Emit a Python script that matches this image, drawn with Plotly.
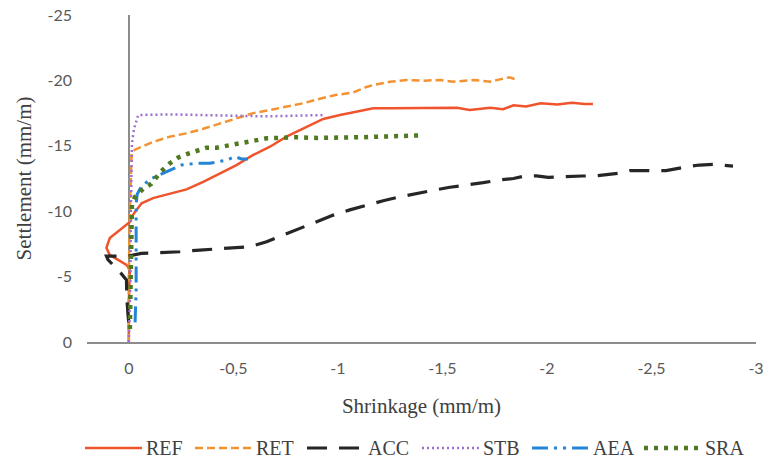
import plotly.graph_objects as go

# ---------------- data ----------------
REF_x = [0, 0, -0.005, 0.011, 0.053, 0.091, 0.107, 0.091, 0.043, -0.005, -0.019, -0.04, -0.061, -0.116,
         -0.212, -0.276, -0.356, -0.435, -0.515, -0.595, -0.675, -0.754, -0.85, -0.93, -1.01, -1.09, -1.17,
         -1.25, -1.33, -1.41, -1.49, -1.57, -1.63, -1.73, -1.79, -1.84, -1.90, -1.97, -2.05, -2.12, -2.18, -2.22]
REF_y = [0, -3, -5.5, -5.9, -6.3, -6.65, -7.2, -7.95, -8.56, -9.17, -9.7, -10.2, -10.6, -11.0,
         -11.37, -11.67, -12.25, -12.9, -13.53, -14.3, -14.93, -15.7, -16.46, -17.05, -17.35, -17.6, -17.87,
         -17.87, -17.87, -17.9, -17.9, -17.9, -17.74, -17.9, -17.8, -18.1, -18.0, -18.25, -18.15, -18.3, -18.2, -18.2]

RET_x = [0, 0, -0.005, -0.013, -0.029, -0.116, -0.196, -0.276, -0.356, -0.435, -0.515, -0.595, -0.675,
         -0.754, -0.834, -0.914, -0.994, -1.07, -1.137, -1.17, -1.25, -1.33, -1.41, -1.49, -1.55, -1.65,
         -1.73, -1.775, -1.82, -1.85]
RET_y = [0, -5, -10, -14.4, -14.7, -15.3, -15.7, -15.95, -16.3, -16.7, -17.15, -17.5, -17.74,
         -18.0, -18.25, -18.6, -18.9, -19.06, -19.5, -19.65, -19.9, -20.03, -19.98, -20.03, -19.9, -20.03,
         -19.9, -20.08, -20.23, -20.08]

ACC_x = [0, 0.003, 0.01, 0.011, 0.04, 0.075, 0.1, 0.107, 0.003, -0.06, -0.244, -0.34, -0.5, -0.579,
         -0.659, -0.738, -0.818, -0.898, -0.978, -1.057, -1.137, -1.217, -1.297, -1.376, -1.456, -1.536,
         -1.616, -1.695, -1.775, -1.84, -1.895, -1.95, -2.006, -2.06, -2.17, -2.23, -2.34, -2.397, -2.517,
         -2.57, -2.67, -2.73, -2.796, -2.86, -2.89]
ACC_y = [-1.5, -1.9, -3.46, -4.74, -5.3, -5.9, -6.3, -6.57, -6.57, -6.78, -6.9, -7.03, -7.16, -7.28,
         -7.67, -8.18, -8.69, -9.2, -9.7, -10.1, -10.47, -10.8, -11.1, -11.37, -11.6, -11.83,
         -12.0, -12.18, -12.4, -12.5, -12.69, -12.7, -12.59, -12.64, -12.69, -12.69, -12.9, -13.1, -13.1,
         -13.1, -13.4, -13.53, -13.58, -13.45, -13.45]

STB_x = [0, -0.008, -0.01, -0.012, -0.015, -0.025, -0.037, -0.045, -0.2, -0.35, -0.5, -0.65, -0.8, -0.93]
STB_y = [0, -5, -10, -14, -15.2, -16.3, -16.97, -17.35, -17.4, -17.35, -17.25, -17.25, -17.3, -17.35]

AEA_x = [-0.03, -0.035, -0.035, -0.035, -0.04, -0.06, -0.108, -0.18, -0.252, -0.324, -0.388, -0.467,
         -0.507, -0.539, -0.57]
AEA_y = [-1.5, -4, -8, -10.5, -11.3, -11.9, -12.5, -13.0, -13.53, -13.66, -13.66, -13.9,
         -14.17, -14.0, -14.0]

SRA_x = [-0.005, -0.008, -0.01, -0.015, -0.03, -0.068, -0.108, -0.156, -0.196, -0.236, -0.284, -0.332,
         -0.372, -0.42, -0.467, -0.515, -0.563, -0.611, -0.659, -0.707, -0.8, -0.9, -1.0, -1.1, -1.2,
         -1.3, -1.4]
SRA_y = [-1.0, -4, -8, -10.5, -11.1, -11.7, -12.1, -13.07, -13.66, -14.1, -14.4, -14.68,
         -14.86, -14.86, -15.0, -15.1, -15.27, -15.44, -15.57, -15.6, -15.65, -15.6, -15.6, -15.65, -15.7,
         -15.75, -15.8]

SERIES_NAMES = ["REF", "RET", "ACC", "STB", "AEA", "SRA"]

X_TICKS = [0, -0.5, -1, -1.5, -2, -2.5, -3]
X_TICK_LABELS = ["0", "-0,5", "-1", "-1,5", "-2", "-2,5", "-3"]
Y_TICKS = [0, -5, -10, -15, -20, -25]
Y_TICK_LABELS = ["0", "-5", "-10", "-15", "-20", "-25"]

# ---------------- styling ----------------
W, H = 764, 462
ML, MR, MT, MB = 87, 8, 15, 120
PW, PH = W - ML - MR, H - MT - MB

styles = {
    "REF": dict(color="#F0542C", dash="solid", width=2.5),
    "RET": dict(color="#F39232", dash="8px,4px", width=2.5),
    "ACC": dict(color="#262626", dash="20px,12px", width=3.2),
    "STB": dict(color="#9B6FCF", dash="2px,3px", width=2.5),
    "AEA": dict(color="#2385D4", dash="16px,6px,3px,6px,3px,6px", width=3),
    "SRA": dict(color="#4F7A21", dash="4px,6px", width=4.5),
}
data = {
    "REF": (REF_x, REF_y), "RET": (RET_x, RET_y), "ACC": (ACC_x, ACC_y),
    "STB": (STB_x, STB_y), "AEA": (AEA_x, AEA_y), "SRA": (SRA_x, SRA_y),
}

fig = go.Figure()
for name in SERIES_NAMES:
    xs, ys = data[name]
    fig.add_trace(go.Scatter(x=xs, y=ys, mode="lines", name=name,
                             line=styles[name], showlegend=False))

# manual legend (long key lines like the original)
legend_starts_px = [85, 195, 307, 422, 532, 644]
key_len = 57
legend_y_px = 448
ly = (H - MB - legend_y_px) / PH
for name, sx in zip(SERIES_NAMES, legend_starts_px):
    x0 = (sx - ML) / PW
    x1 = (sx + key_len - ML) / PW
    fig.add_shape(type="line", xref="paper", yref="paper", x0=x0, x1=x1, y0=ly, y1=ly,
                  line=dict(color=styles[name]["color"], dash=styles[name]["dash"],
                            width=styles[name]["width"]))
    fig.add_annotation(xref="paper", yref="paper", x=(sx + key_len + 2 - ML) / PW, y=ly,
                       xanchor="left", yanchor="middle", text=name, showarrow=False,
                       font=dict(family="Liberation Serif, serif", size=20, color="#404040"))

tick_font = dict(family="Lato, Liberation Sans, sans-serif", size=16, color="#595959")
title_font = dict(family="Liberation Serif, serif", size=21, color="#404040")

fig.update_layout(
    width=W, height=H,
    margin=dict(l=ML, r=MR, t=MT, b=MB),
    paper_bgcolor="white", plot_bgcolor="white",
    showlegend=False,
    xaxis=dict(range=[0.2, -3], tickvals=X_TICKS, ticktext=X_TICK_LABELS,
               showgrid=False, zeroline=True, zerolinecolor="#8C8C8C", zerolinewidth=2,
               showline=True, linecolor="#8C8C8C", linewidth=2, automargin=False,
               ticks="", ticklabelstandoff=11, tickfont=tick_font,
               title=dict(text="Shrinkage (mm/m)", font=title_font, standoff=22)),
    yaxis=dict(range=[0, -25], tickvals=Y_TICKS, ticktext=Y_TICK_LABELS,
               showgrid=False, zeroline=False, showline=False, automargin=False,
               ticks="", ticklabelstandoff=14, tickfont=tick_font,
               title=dict(text="Settlement (mm/m)", font=title_font, standoff=10)),
)

fig.write_html("out.html")
